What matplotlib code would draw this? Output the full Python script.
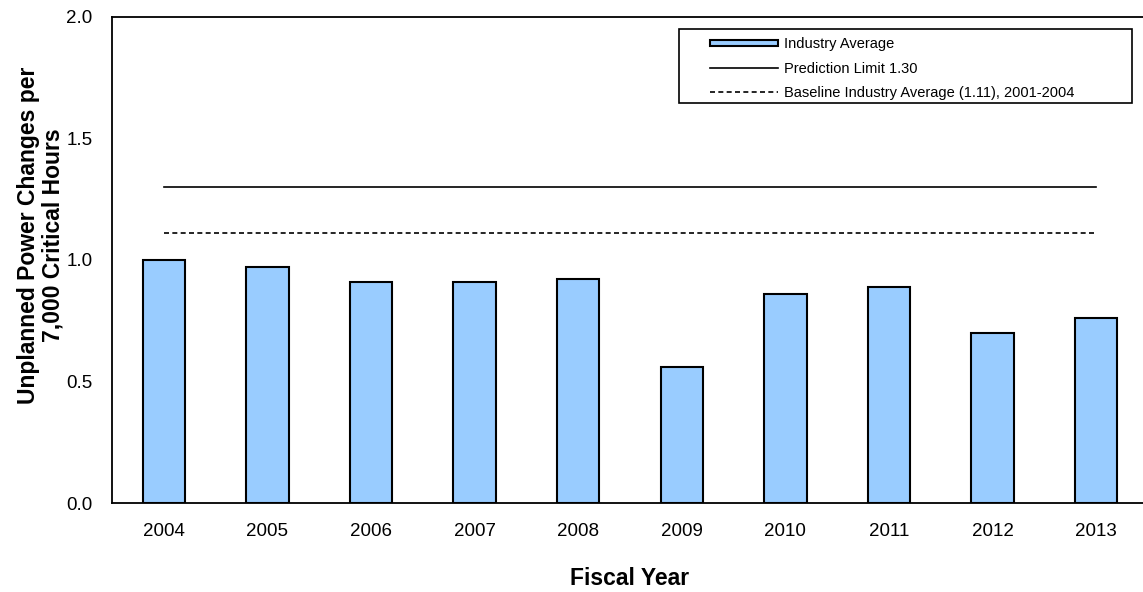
import matplotlib.pyplot as plt
from matplotlib.patches import Patch, Rectangle
from matplotlib.lines import Line2D

plt.rcParams['font.family'] = ['Liberation Sans', 'DejaVu Sans']

years = ['2004', '2005', '2006', '2007', '2008', '2009', '2010', '2011', '2012', '2013']
industry_avg = [1.00, 0.97, 0.91, 0.91, 0.92, 0.56, 0.86, 0.89, 0.70, 0.76]
prediction_limit = 1.30
baseline_avg = 1.11

fig = plt.figure(figsize=(11.43, 5.92), dpi=100)
ax = fig.add_axes([0.098, 0.150, 0.9064, 0.822])

x = list(range(len(years)))
ax.bar(x, industry_avg, width=0.41, color='#99CCFF', edgecolor='black', linewidth=1.5, zorder=2)
ax.plot([x[0], x[-1]], [prediction_limit] * 2, color='black', linewidth=1.2, zorder=3)
ax.plot([x[0], x[-1]], [baseline_avg] * 2, color='black', linewidth=1.2, linestyle=(0, (3, 2)), zorder=3)

ax.set_xlim(-0.5, len(years) - 0.5)
ax.set_ylim(0, 2.0)
ax.set_yticks([0.0, 0.5, 1.0, 1.5, 2.0])
ax.set_yticklabels(['0.0', '0.5', '1.0', '1.5', '2.0'])
ax.set_xticks(x)
ax.set_xticklabels(years)
ax.tick_params(axis='both', length=0, labelsize=13.5)
ax.tick_params(axis='y', pad=14)
ax.tick_params(axis='x', pad=14)
for side in ax.spines.values():
    side.set_linewidth(1.3)

ax.set_xlabel('Fiscal Year', fontsize=16.5, fontweight='bold', labelpad=20)
ax.set_ylabel('Unplanned Power Changes per\n7,000 Critical Hours', fontsize=16.5,
              fontweight='bold', linespacing=1.05)
ax.yaxis.set_label_coords(-0.046, 0.55)

# legend box is wider than its entries, so the frame is drawn separately
fig.patches.append(Rectangle((0.5940, 0.8260), 0.3964, 0.1250, transform=fig.transFigure,
                             facecolor='white', edgecolor='black', linewidth=1.2, zorder=4))

handles = [
    Patch(facecolor='#99CCFF', edgecolor='black', linewidth=1.5),
    Line2D([], [], color='black', linewidth=1.2),
    Line2D([], [], color='black', linewidth=1.2, linestyle=(0, (3, 2))),
]
labels = ['Industry Average', 'Prediction Limit 1.30',
          'Baseline Industry Average (1.11), 2001-2004']
leg = fig.legend(handles, labels, loc='upper left', bbox_to_anchor=(0.6212, 0.937),
                 fontsize=10.5, frameon=False, handlelength=4.65, handleheight=0.3,
                 labelspacing=0.7, borderpad=0, handletextpad=0.45, borderaxespad=0)
leg.set_zorder(5)

plt.savefig('out.png', dpi=100)
